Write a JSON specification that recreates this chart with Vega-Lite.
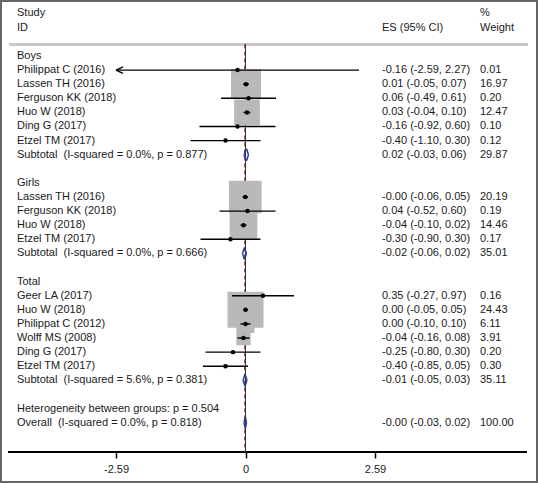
{
  "$schema": "https://vega.github.io/schema/vega-lite/v6.json",
  "width": 538,
  "height": 483,
  "autosize": {"type": "fit", "contains": "padding"},
  "padding": 0,
  "background": "white",
  "config": {
    "view": {"stroke": "#666666", "strokeWidth": 4},
    "text": {"font": "Liberation Sans", "fontSize": 11, "color": "#1a1a1a"}
  },
  "data": {
    "values": [
      {"row": -2.05, "type": "head", "label": "Study", "wText": "%"},
      {"row": -0.99, "type": "head", "label": "ID", "esText": "ES (95% CI)", "wText": "Weight"},
      {"row": 1, "type": "group", "label": "Boys"},
      {"row": 2, "type": "study", "label": "Philippat C (2016)", "es": -0.16, "lo": -2.59, "hi": 2.27, "w": 0.01, "esText": "-0.16 (-2.59, 2.27)", "wText": "0.01"},
      {"row": 3, "type": "study", "label": "Lassen TH (2016)", "es": 0.01, "lo": -0.05, "hi": 0.07, "w": 16.97, "esText": "0.01 (-0.05, 0.07)", "wText": "16.97"},
      {"row": 4, "type": "study", "label": "Ferguson KK (2018)", "es": 0.06, "lo": -0.49, "hi": 0.61, "w": 0.20, "esText": "0.06 (-0.49, 0.61)", "wText": "0.20"},
      {"row": 5, "type": "study", "label": "Huo W (2018)", "es": 0.03, "lo": -0.04, "hi": 0.10, "w": 12.47, "esText": "0.03 (-0.04, 0.10)", "wText": "12.47"},
      {"row": 6, "type": "study", "label": "Ding G (2017)", "es": -0.16, "lo": -0.92, "hi": 0.60, "w": 0.10, "esText": "-0.16 (-0.92, 0.60)", "wText": "0.10"},
      {"row": 7, "type": "study", "label": "Etzel TM (2017)", "es": -0.40, "lo": -1.10, "hi": 0.30, "w": 0.12, "esText": "-0.40 (-1.10, 0.30)", "wText": "0.12"},
      {"row": 8, "type": "subtotal", "label": "Subtotal\u00a0 (I-squared = 0.0%, p = 0.877)", "es": 0.02, "lo": -0.03, "hi": 0.06, "w": 29.87, "esText": "0.02 (-0.03, 0.06)", "wText": "29.87"},
      {"row": 10, "type": "group", "label": "Girls"},
      {"row": 11, "type": "study", "label": "Lassen TH (2016)", "es": -0.004, "lo": -0.06, "hi": 0.05, "w": 20.19, "esText": "-0.00 (-0.06, 0.05)", "wText": "20.19"},
      {"row": 12, "type": "study", "label": "Ferguson KK (2018)", "es": 0.04, "lo": -0.52, "hi": 0.60, "w": 0.19, "esText": "0.04 (-0.52, 0.60)", "wText": "0.19"},
      {"row": 13, "type": "study", "label": "Huo W (2018)", "es": -0.04, "lo": -0.10, "hi": 0.02, "w": 14.46, "esText": "-0.04 (-0.10, 0.02)", "wText": "14.46"},
      {"row": 14, "type": "study", "label": "Etzel TM (2017)", "es": -0.30, "lo": -0.90, "hi": 0.30, "w": 0.17, "esText": "-0.30 (-0.90, 0.30)", "wText": "0.17"},
      {"row": 15, "type": "subtotal", "label": "Subtotal\u00a0 (I-squared = 0.0%, p = 0.666)", "es": -0.02, "lo": -0.06, "hi": 0.02, "w": 35.01, "esText": "-0.02 (-0.06, 0.02)", "wText": "35.01"},
      {"row": 17, "type": "group", "label": "Total"},
      {"row": 18, "type": "study", "label": "Geer LA (2017)", "es": 0.35, "lo": -0.27, "hi": 0.97, "w": 0.16, "esText": "0.35 (-0.27, 0.97)", "wText": "0.16"},
      {"row": 19, "type": "study", "label": "Huo W (2018)", "es": 0.00, "lo": -0.05, "hi": 0.05, "w": 24.43, "esText": "0.00 (-0.05, 0.05)", "wText": "24.43"},
      {"row": 20, "type": "study", "label": "Philippat C (2012)", "es": 0.00, "lo": -0.10, "hi": 0.10, "w": 6.11, "esText": "0.00 (-0.10, 0.10)", "wText": "6.11"},
      {"row": 21, "type": "study", "label": "Wolff MS (2008)", "es": -0.04, "lo": -0.16, "hi": 0.08, "w": 3.91, "esText": "-0.04 (-0.16, 0.08)", "wText": "3.91"},
      {"row": 22, "type": "study", "label": "Ding G (2017)", "es": -0.25, "lo": -0.80, "hi": 0.30, "w": 0.20, "esText": "-0.25 (-0.80, 0.30)", "wText": "0.20"},
      {"row": 23, "type": "study", "label": "Etzel TM (2017)", "es": -0.40, "lo": -0.85, "hi": 0.05, "w": 0.30, "esText": "-0.40 (-0.85, 0.05)", "wText": "0.30"},
      {"row": 24, "type": "subtotal", "label": "Subtotal\u00a0 (I-squared = 5.6%, p = 0.381)", "es": -0.01, "lo": -0.05, "hi": 0.03, "w": 35.11, "esText": "-0.01 (-0.05, 0.03)", "wText": "35.11"},
      {"row": 26, "type": "note", "label": "Heterogeneity between groups: p = 0.504"},
      {"row": 27, "type": "overall", "label": "Overall\u00a0 (I-squared = 0.0%, p = 0.818)", "es": -0.004, "lo": -0.03, "hi": 0.02, "w": 100.00, "esText": "-0.00 (-0.03, 0.02)", "wText": "100.00"}
    ]
  },
  "encoding": {
    "y": {"field": "row", "type": "quantitative", "scale": {"domain": [-2.97, 31.28], "reverse": true, "nice": false, "zero": false}, "axis": null}
  },
  "layer": [
    {
      "mark": {"type": "rule", "color": "#c8c8c8", "strokeWidth": 2},
      "encoding": {"x": {"datum": -4.73, "type": "quantitative"}, "x2": {"datum": 5.64}, "y": {"datum": 0.18, "type": "quantitative"}}
    },
    {
      "mark": {"type": "rule", "color": "#000000", "strokeWidth": 1.5},
      "encoding": {"x": {"datum": -4.75, "type": "quantitative"}, "x2": {"datum": 5.63}, "y": {"datum": 29.09, "type": "quantitative"}}
    },
    {
      "transform": [{"filter": "datum.type === 'overall'"}],
      "mark": {"type": "rule", "color": "#b83a3a", "strokeWidth": 1, "strokeDash": [4, 3], "xOffset": -0.7},
      "encoding": {"x": {"field": "es", "type": "quantitative"}, "y": {"datum": 0.18, "type": "quantitative"}, "y2": {"datum": 29.09}}
    },
    {
      "mark": {"type": "rule", "color": "#333333", "strokeWidth": 1},
      "encoding": {"x": {"datum": 0, "type": "quantitative"}, "y": {"datum": 0.18, "type": "quantitative"}, "y2": {"datum": 29.09}}
    },
    {
      "transform": [{"filter": "datum.type === 'study'"}],
      "mark": {"type": "square", "filled": true, "opacity": 1, "color": "#b9b9b9"},
      "encoding": {
        "x": {"field": "es", "type": "quantitative", "scale": {"domain": [-4.91, 5.85], "nice": false, "zero": false}, "axis": {"values": [-2.59, 0, 2.59], "domain": false, "grid": false, "offset": -31, "tickSize": 6, "tickWidth": 1.5, "tickColor": "#000000", "labelFont": "Liberation Sans", "labelFontSize": 11, "labelColor": "#1a1a1a", "labelPadding": 5, "title": null, "labelExpr": "datum.value === 0 ? '0' : (datum.value < 0 ? '-' + format(-datum.value, '.2f') : format(datum.value, '.2f'))"}},
        "size": {"field": "w", "type": "quantitative", "scale": {"type": "linear", "domain": [0, 100], "range": [0, 5300]}, "legend": null}
      }
    },
    {
      "transform": [{"filter": "datum.type === 'study'"}],
      "mark": {"type": "rule", "color": "#000000", "strokeWidth": 1.4},
      "encoding": {"x": {"field": "lo", "type": "quantitative"}, "x2": {"field": "hi"}}
    },
    {
      "transform": [{"filter": "datum.type === 'study' && datum.lo <= -2.59"}],
      "mark": {"type": "point", "shape": "M0,0L1.75,-0.8M0,0L1.75,0.8", "filled": false, "stroke": "#000000", "strokeWidth": 1.4, "size": 64, "opacity": 1},
      "encoding": {"x": {"field": "lo", "type": "quantitative"}}
    },
    {
      "transform": [{"filter": "datum.type === 'study'"}],
      "mark": {"type": "circle", "color": "#000000", "size": 20, "opacity": 1},
      "encoding": {"x": {"field": "es", "type": "quantitative"}}
    },
    {
      "transform": [{"filter": "datum.type === 'subtotal' || datum.type === 'overall'"}],
      "mark": {"type": "rule", "color": "#2a3a9e", "strokeWidth": 1.5, "y2Offset": -6},
      "encoding": {"x": {"field": "lo", "type": "quantitative"}, "x2": {"field": "es"}, "y2": {"field": "row"}}
    },
    {
      "transform": [{"filter": "datum.type === 'subtotal' || datum.type === 'overall'"}],
      "mark": {"type": "rule", "color": "#2a3a9e", "strokeWidth": 1.5, "yOffset": -6},
      "encoding": {"x": {"field": "es", "type": "quantitative"}, "x2": {"field": "hi"}, "y2": {"field": "row"}}
    },
    {
      "transform": [{"filter": "datum.type === 'subtotal' || datum.type === 'overall'"}],
      "mark": {"type": "rule", "color": "#2a3a9e", "strokeWidth": 1.5, "y2Offset": 6},
      "encoding": {"x": {"field": "hi", "type": "quantitative"}, "x2": {"field": "es"}, "y2": {"field": "row"}}
    },
    {
      "transform": [{"filter": "datum.type === 'subtotal' || datum.type === 'overall'"}],
      "mark": {"type": "rule", "color": "#2a3a9e", "strokeWidth": 1.5, "yOffset": 6},
      "encoding": {"x": {"field": "es", "type": "quantitative"}, "x2": {"field": "lo"}, "y2": {"field": "row"}}
    },
    {
      "transform": [{"filter": "datum.label != null"}],
      "mark": {"type": "text", "align": "left", "baseline": "middle"},
      "encoding": {"x": {"datum": -4.57, "type": "quantitative"}, "text": {"field": "label"}}
    },
    {
      "transform": [{"filter": "datum.esText != null"}],
      "mark": {"type": "text", "align": "left", "baseline": "middle"},
      "encoding": {"x": {"datum": 2.73, "type": "quantitative"}, "text": {"field": "esText"}}
    },
    {
      "transform": [{"filter": "datum.wText != null"}],
      "mark": {"type": "text", "align": "left", "baseline": "middle"},
      "encoding": {"x": {"datum": 4.69, "type": "quantitative"}, "text": {"field": "wText"}}
    }
  ]
}
